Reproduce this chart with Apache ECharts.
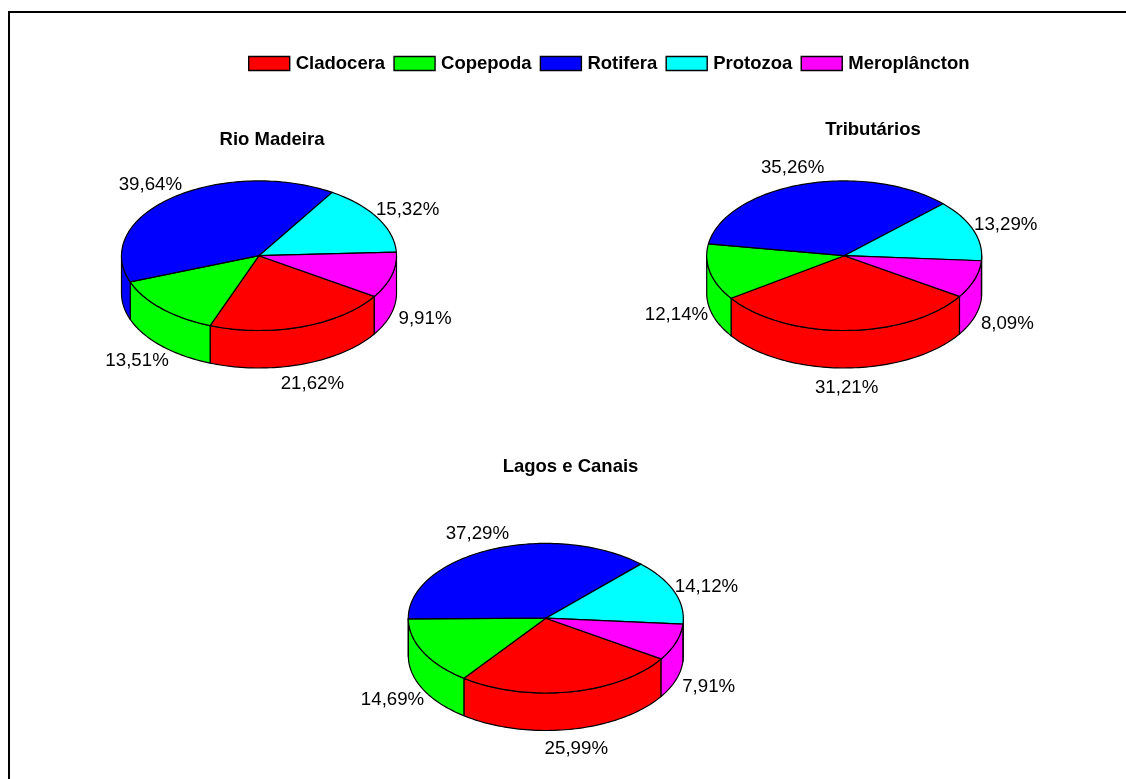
<!DOCTYPE html>
<html>
<head>
<meta charset="utf-8">
<title>Zooplâncton</title>
<script src="https://cdn.jsdelivr.net/npm/echarts@6/dist/echarts.min.js"></script>
<style>
  html, body { margin: 0; padding: 0; background: #fff; }
  #chart { width: 1126px; height: 779px; }
</style>
</head>
<body>
<div id="chart"></div>
<script>
// Percentage of each zooplankton group per environment, one value per pie.
const environments = ['Rio Madeira', 'Tributários', 'Lagos e Canais'];
const groups = ['Cladocera', 'Copepoda', 'Rotifera', 'Protozoa', 'Meroplâncton'];
const cladocera = [21.62, 31.21, 25.99];
const copepoda = [13.51, 12.14, 14.69];
const rotifera = [39.64, 35.26, 37.29];
const protozoa = [15.32, 13.29, 14.12];
const meroplancton = [9.91, 8.09, 7.91];
const groupValues = [cladocera, copepoda, rotifera, protozoa, meroplancton];
const groupColors = ['#ff0000', '#00ff00', '#0000ff', '#00ffff', '#ff00ff'];

// Placement of the three pies and their headings.
const pieCenters = [[259, 255.7], [844.2, 255.7], [545.8, 618.2]];
const titleCenters = [[272, 130.5], [873, 120.5], [570.5, 457.5]];
const RX = 137.5, RY = 74.8, DEPTH = 37.5;
const START_DEG = 33;
const FONT = '"Liberation Sans", Arial, sans-serif';

const rad = d => d * Math.PI / 180;

// Start and end angle (degrees, clockwise from east) of a slice.
function sliceAngles(groupIdx, pieIdx) {
  let total = 0, before = 0;
  groupValues.forEach((vals, g) => {
    total += vals[pieIdx];
    if (g < groupIdx) before += vals[pieIdx];
  });
  const a0 = START_DEG + before / total * 360;
  return [a0, a0 + groupValues[groupIdx][pieIdx] / total * 360];
}

function arcPoints(c, a0, a1, yShift) {
  const n = Math.max(2, Math.ceil((a1 - a0) / 1.5));
  const pts = [];
  for (let i = 0; i <= n; i++) {
    const a = rad(a0 + (a1 - a0) * i / n);
    pts.push([c[0] + RX * Math.cos(a), c[1] + RY * Math.sin(a) + yShift]);
  }
  return pts;
}

// Parts of the slice's rim that face the viewer (sine positive).
function frontRanges(a0, a1) {
  const out = [];
  for (let k = 0; k <= 1; k++) {
    const lo = Math.max(a0, k * 360), hi = Math.min(a1, k * 360 + 180);
    if (hi > lo) out.push([lo, hi]);
  }
  return out;
}

function makeRenderItem(groupIdx) {
  return function (params, api) {
    const pieIdx = params.dataIndex;
    const value = api.value(0);
    const c = pieCenters[pieIdx];
    const [a0, a1] = sliceAngles(groupIdx, pieIdx);
    const fill = groupColors[groupIdx];
    const edge = { fill, stroke: '#000', lineWidth: 1.2, lineJoin: 'round' };
    const children = [];

    frontRanges(a0, a1).forEach(([lo, hi]) => {
      const top = arcPoints(c, lo, hi, 0);
      const bottom = arcPoints(c, lo, hi, DEPTH).reverse();
      children.push({ type: 'polygon', shape: { points: top.concat(bottom) }, style: edge, z2: 1 });
    });
    children.push({
      type: 'polygon',
      shape: { points: [c].concat(arcPoints(c, a0, a1, 0)) },
      style: edge,
      z2: 2
    });

    const mid = rad((a0 + a1) / 2);
    const sin = Math.sin(mid);
    children.push({
      type: 'text',
      z2: 3,
      style: {
        text: value.toFixed(2).replace('.', ',') + '%',
        x: c[0] + (RX + 34.5) * Math.cos(mid),
        y: c[1] + (RY + 18.5) * sin + (sin > 0 ? DEPTH : 0) + 1.5,
        align: 'center',
        verticalAlign: 'middle',
        fill: '#000',
        font: '18.7px ' + FONT
      }
    });
    return { type: 'group', children };
  };
}

const chart = echarts.init(document.getElementById('chart'), null, { renderer: 'canvas' });
chart.setOption({
  backgroundColor: '#ffffff',
  animation: false,
  title: environments.map((name, i) => ({
    text: name,
    left: titleCenters[i][0],
    top: titleCenters[i][1],
    textAlign: 'center',
    padding: 0,
    textStyle: { fontFamily: FONT, fontWeight: 'bold', fontSize: 18.5, color: '#000' }
  })),
  legend: {
    data: groups,
    left: 248,
    top: 54,
    padding: 0,
    itemWidth: 41,
    itemHeight: 14,
    itemGap: 8.2,
    icon: 'rect',
    selectedMode: false,
    itemStyle: { borderColor: '#000', borderWidth: 1.4 },
    textStyle: { fontFamily: FONT, fontWeight: 'bold', fontSize: 18.5, color: '#000', padding: [0, 0, 0, 1] }
  },
  graphic: [
    { type: 'line', shape: { x1: 8, y1: 12, x2: 1126, y2: 12 }, style: { stroke: '#000', lineWidth: 2 }, silent: true },
    { type: 'line', shape: { x1: 9, y1: 11, x2: 9, y2: 779 }, style: { stroke: '#000', lineWidth: 2 }, silent: true }
  ],
  series: groups.map((name, g) => ({
    type: 'custom',
    name,
    coordinateSystem: 'none',
    clip: false,
    silent: true,
    itemStyle: { color: groupColors[g] },
    renderItem: makeRenderItem(g),
    data: groupValues[g].map(v => [v])
  }))
});
</script>
</body>
</html>
